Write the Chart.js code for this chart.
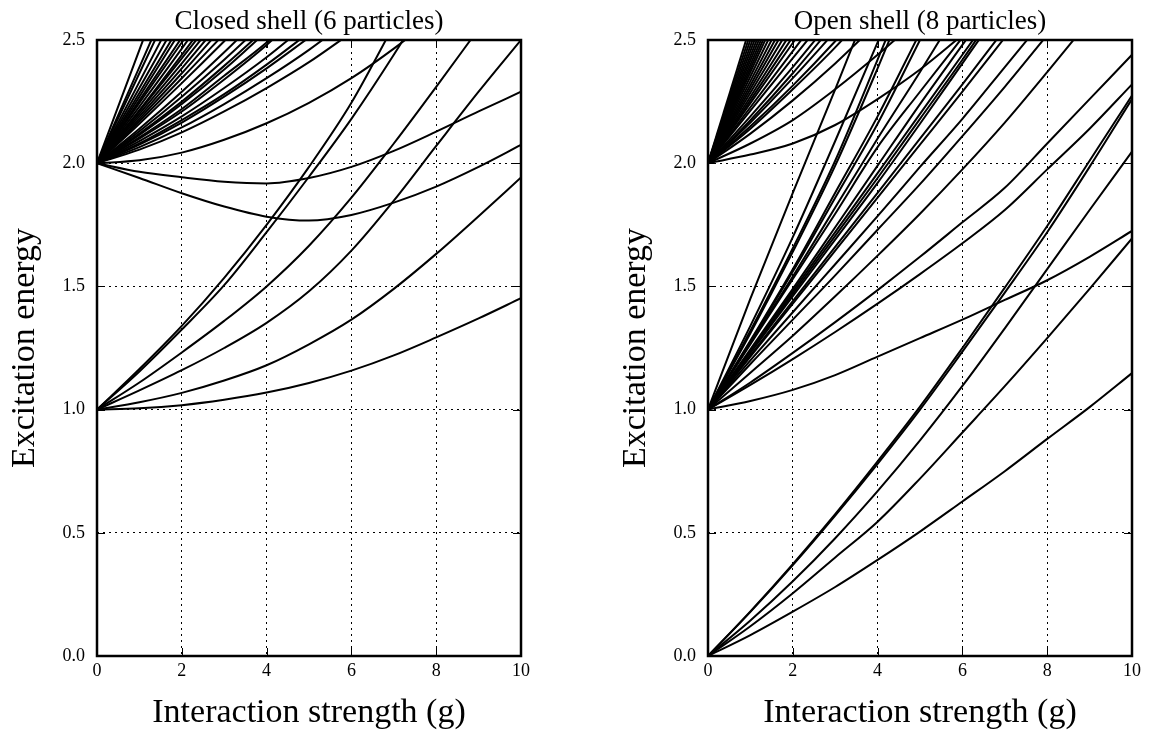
<!DOCTYPE html>
<html><head><meta charset="utf-8">
<script src="https://cdn.jsdelivr.net/npm/chart.js@4"></script>
<style>
html,body{margin:0;padding:0;background:#fff;}
#wrap{position:relative;width:1153px;height:733px;}
canvas{position:absolute;top:0;}
</style></head>
<body><div id="wrap">
<canvas id="c1" width="576" height="733" style="left:0"></canvas>
<canvas id="c2" width="577" height="733" style="left:576px"></canvas>
</div>
<script>
// interaction strength sample points
const G = [0,1,2,3,4,5,6,7,8,9,10];
const xTicks = [0,2,4,6,8,10];
const yTicks = [0.0,0.5,1.0,1.5,2.0,2.5];

// ---- Closed shell (6 particles) ----
const closedFrom1 = [
  [1.0,1.005,1.018,1.04,1.069,1.108,1.158,1.22,1.293,1.37,1.452],
  [1.0,1.03,1.068,1.118,1.18,1.265,1.365,1.49,1.632,1.785,1.942],
  [1.0,1.078,1.16,1.25,1.352,1.48,1.645,1.848,2.07,2.29,2.5],
  [1.0,1.11,1.232,1.36,1.5,1.665,1.86,2.08,2.31,2.545],
  [1.0,1.165,1.34,1.535,1.75,1.985,2.245,2.56],
  [1.0,1.155,1.325,1.505,1.72,1.945,2.18,2.44,2.72]
];
const closedDips = [
  [2.0,1.965,1.943,1.925,1.918,1.94,1.985,2.05,2.128,2.21,2.29],
  [2.0,1.94,1.878,1.824,1.783,1.767,1.79,1.84,1.905,1.985,2.074]
];
const closedFan2 = [
  [2.0,2.46,2.92],[2.0,2.39,2.78],[2.0,2.365,2.73],[2.0,2.33,2.66],
  [2.0,2.305,2.61],[2.0,2.285,2.57],[2.0,2.27,2.545],[2.0,2.255,2.51],
  [2.0,2.245,2.49,2.74],[2.0,2.23,2.465,2.71],[2.0,2.215,2.44,2.67],
  [2.0,2.21,2.425,2.645],[2.0,2.2,2.405,2.62],[2.0,2.19,2.385,2.59],
  [2.0,2.18,2.365,2.56],[2.0,2.17,2.345,2.525],[2.0,2.16,2.325,2.495,2.67],
  [2.0,2.14,2.29,2.45,2.62],[2.0,2.13,2.27,2.42,2.58],[2.0,2.12,2.25,2.395,2.55],
  [2.0,2.115,2.24,2.38,2.535],[2.0,2.105,2.22,2.355,2.49,2.65],
  [2.0,2.1,2.21,2.34,2.48,2.64],[2.0,2.09,2.19,2.305,2.43,2.57],
  [2.0,2.08,2.175,2.28,2.4,2.53],[2.0,2.075,2.165,2.27,2.385,2.51],
  [2.0,2.065,2.145,2.24,2.345,2.46,2.59],[2.0,2.055,2.125,2.21,2.305,2.41,2.53],
  [2.0,2.012,2.043,2.095,2.162,2.245,2.345,2.465,2.6]
];

// ---- Open shell (8 particles) ----
const openFrom0 = [
  [0,0.085,0.18,0.28,0.39,0.505,0.627,0.75,0.881,1.01,1.148],
  [0,0.121,0.255,0.40,0.545,0.72,0.907,1.095,1.29,1.49,1.695],
  [0,0.144,0.303,0.478,0.669,0.875,1.096,1.33,1.57,1.81,2.047],
  [0,0.179,0.369,0.57,0.78,1.0,1.235,1.475,1.72,1.985,2.26],
  [0,0.181,0.373,0.576,0.79,1.012,1.25,1.495,1.745,2.01,2.275]
];
const openFrom1 = [
  [1.0,1.035,1.08,1.14,1.215,1.29,1.365,1.445,1.525,1.62,1.725],
  [1.0,1.45,1.88,2.3,2.73],
  [1.0,1.34,1.7,2.09,2.49,2.9],
  [1.0,1.32,1.655,2.01,2.42,2.84],
  [1.0,1.31,1.64,1.99,2.385,2.8],
  [1.0,1.28,1.57,1.88,2.19,2.53],
  [1.0,1.275,1.56,1.86,2.16,2.5,2.84],
  [1.0,1.27,1.54,1.82,2.1,2.37,2.65],
  [1.0,1.265,1.53,1.795,2.065,2.29,2.51],
  [1.0,1.245,1.49,1.74,1.99,2.24,2.48,2.72],
  [1.0,1.24,1.48,1.72,1.96,2.2,2.44,2.68],
  [1.0,1.235,1.47,1.705,1.94,2.18,2.42,2.67],
  [1.0,1.23,1.46,1.69,1.92,2.16,2.405,2.65],
  [1.0,1.22,1.44,1.66,1.88,2.1,2.32,2.545],
  [1.0,1.215,1.43,1.645,1.86,2.075,2.29,2.51],
  [1.0,1.2,1.395,1.59,1.785,1.985,2.18,2.39,2.6],
  [1.0,1.185,1.365,1.545,1.73,1.915,2.11,2.31,2.52,2.73],
  [1.0,1.15,1.3,1.46,1.625,1.795,1.975,2.165,2.37,2.58],
  [1.0,1.11,1.23,1.355,1.485,1.62,1.76,1.9,2.08,2.26,2.44],
  [1.0,1.1,1.205,1.315,1.43,1.55,1.675,1.81,1.975,2.14,2.32]
];
const openFan2 = [
  [2.0,2.556],[2.0,2.526],[2.0,2.5,3.0],[2.0,2.476,2.952],[2.0,2.455,2.909],
  [2.0,2.435,2.87],[2.0,2.417,2.833],[2.0,2.4,2.8],[2.0,2.385,2.769],
  [2.0,2.37,2.741],[2.0,2.352,2.704],[2.0,2.333,2.667],[2.0,2.316,2.633],
  [2.0,2.301,2.602],[2.0,2.286,2.571],[2.0,2.27,2.541],[2.0,2.256,2.513],
  [2.0,2.244,2.488,2.732],[2.0,2.227,2.455,2.682],[2.0,2.213,2.426,2.638],
  [2.0,2.19,2.39,2.6],[2.0,2.175,2.365,2.57],[2.0,2.165,2.345,2.535],
  [2.0,2.15,2.315,2.495,2.69],[2.0,2.14,2.3,2.47,2.66],[2.0,2.12,2.255,2.405,2.57],
  [2.0,2.08,2.175,2.3,2.44,2.59],[2.0,2.035,2.08,2.155,2.26,2.38,2.52]
];

const FONT = "'Liberation Serif', 'DejaVu Serif', serif";

function toDatasets(groups){
  const out = [];
  groups.forEach(g => g.forEach(arr => {
    out.push({
      data: arr.map((v,i)=>({x:G[i], y:v})),
      borderColor:'#000', borderWidth:2, pointRadius:0, fill:false,
      cubicInterpolationMode:'monotone'
    });
  }));
  return out;
}

const framePlugin = {
  id:'frame',
  afterDatasetsDraw(chart){
    const {ctx, chartArea:{left,right,top,bottom}, scales:{x,y}} = chart;
    ctx.save();
    ctx.strokeStyle='#000';
    ctx.lineWidth=1;
    ctx.beginPath();
    x.ticks.forEach(t=>{
      const px = Math.round(x.getPixelForValue(t.value))+0.5;
      ctx.moveTo(px,bottom); ctx.lineTo(px,bottom-8);
      ctx.moveTo(px,top); ctx.lineTo(px,top+8);
    });
    y.ticks.forEach(t=>{
      const py = Math.round(y.getPixelForValue(t.value))+0.5;
      ctx.moveTo(left,py); ctx.lineTo(left+8,py);
      ctx.moveTo(right,py); ctx.lineTo(right-8,py);
    });
    ctx.stroke();
    ctx.lineWidth=2.5;
    ctx.strokeRect(left,top,right-left,bottom-top);
    ctx.restore();
  }
};

function makeChart(id, title, groups, padLeft, padRight){
  return new Chart(document.getElementById(id), {
    type:'line',
    data:{datasets: toDatasets(groups)},
    options:{
      responsive:false, animation:false, devicePixelRatio:1,
      layout:{padding:{left:padLeft,right:padRight,top:0,bottom:0}},
      plugins:{
        legend:{display:false}, tooltip:{enabled:false},
        title:{display:true, text:title, fullSize:false, color:'#000',
          font:{family:FONT,size:27,weight:'normal',lineHeight:1.2}, padding:{top:6,bottom:1.6}}
      },
      scales:{
        x:{type:'linear', min:0, max:10,
          afterBuildTicks(s){ s.ticks = xTicks.map(v=>({value:v})); },
          afterFit(s){ s.height = 77; },
          border:{display:false, dash:[2,4]},
          grid:{drawTicks:false, lineWidth:1,
            color:(c)=> (c.tick && (c.tick.value===0||c.tick.value===10)) ? 'rgba(0,0,0,0)' : '#000'},
          ticks:{color:'#000', padding:4, maxRotation:0, font:{family:FONT,size:18},
            callback:(v)=>String(v)},
          title:{display:true, text:'Interaction strength (g)', color:'#000',
            font:{family:FONT,size:34,lineHeight:1.2}, padding:{top:6,bottom:0}}
        },
        y:{type:'linear', min:0, max:2.5,
          afterBuildTicks(s){ s.ticks = yTicks.map(v=>({value:v})); },
          afterFit(s){ s.width = 97; },
          border:{display:false, dash:[2,4]},
          grid:{drawTicks:false, lineWidth:1,
            color:(c)=> (c.tick && (c.tick.value===0||c.tick.value===2.5)) ? 'rgba(0,0,0,0)' : '#000'},
          ticks:{color:'#000', padding:12, font:{family:FONT,size:18},
            callback:(v)=>Number(v).toFixed(1)},
          title:{display:true, text:'Excitation energy', color:'#000',
            font:{family:FONT,size:34,lineHeight:1.2}, padding:{top:5,bottom:0}}
        }
      }
    },
    plugins:[framePlugin]
  });
}

makeChart('c1','Closed shell (6 particles)', [closedFrom1, closedDips, closedFan2], 0, 55);
makeChart('c2','Open shell (8 particles)', [openFrom0, openFrom1, openFan2], 35, 21);
</script>
</body></html>
